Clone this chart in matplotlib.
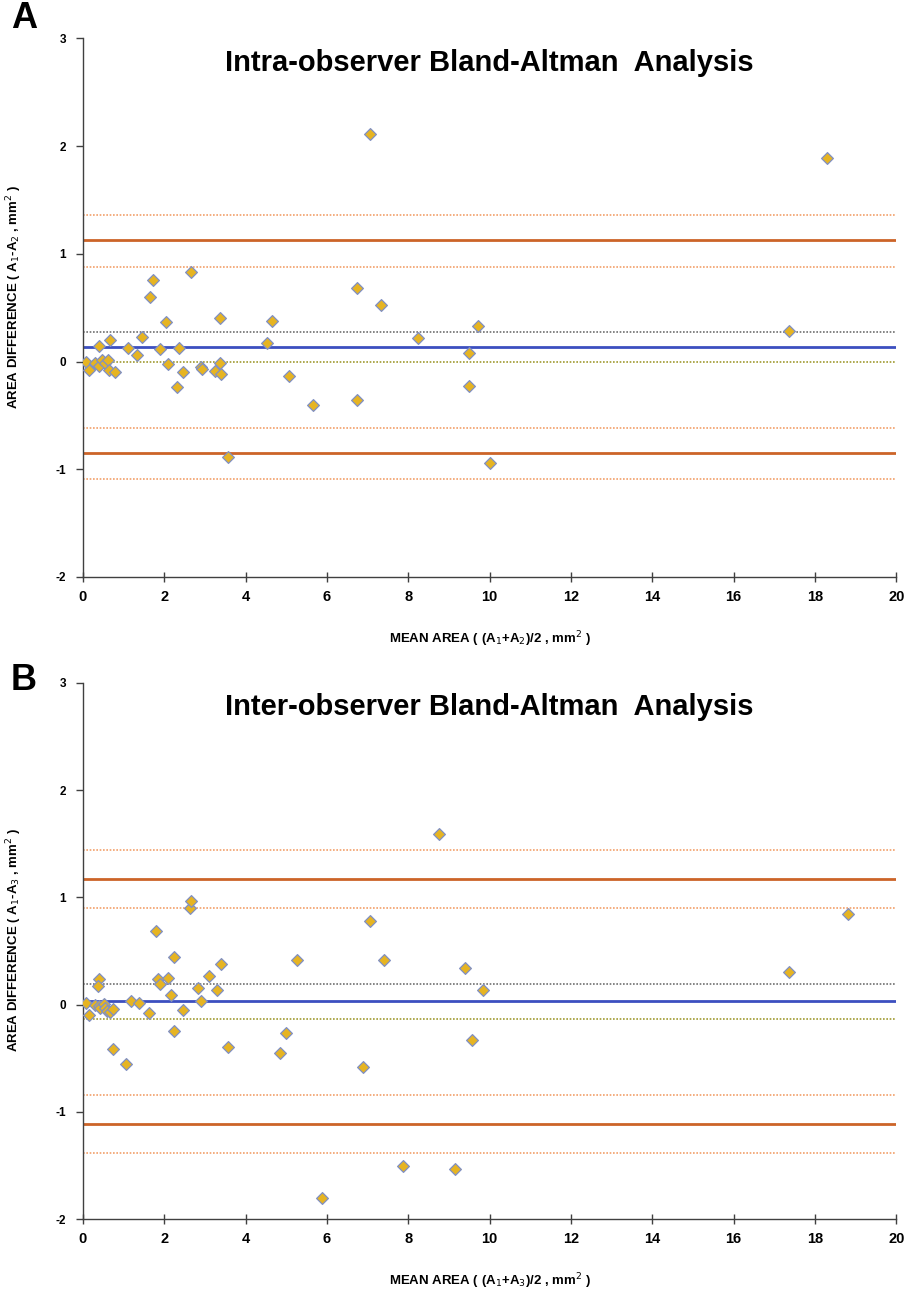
import matplotlib.pyplot as plt

# intra-observer: mean area vs area difference (A1 vs A2)
intra_mean = [0.07, 0.14, 0.29, 0.40, 0.40, 0.47, 0.54, 0.61, 0.63, 0.66,
              0.78, 1.10, 1.32, 1.44, 1.66, 1.71, 1.90, 2.03, 2.10, 2.30,
              2.35, 2.45, 2.65, 2.89, 2.93, 3.24, 3.36, 3.36, 3.39, 3.56,
              4.52, 4.66, 5.06, 5.65, 7.05, 6.73, 6.73, 7.32, 8.25, 9.50,
              9.50, 9.72, 10.01, 17.35, 18.29]
intra_diff = [0.00, -0.076, -0.01, 0.144, -0.04, 0.014, -0.017, 0.014, -0.076, 0.20,
              -0.097, 0.128, 0.06, 0.23, 0.60, 0.757, 0.113, 0.37, -0.02, -0.24,
              0.122, -0.097, 0.834, -0.054, -0.073, -0.085, 0.40, -0.011, -0.113, -0.884,
              0.175, 0.379, -0.132, -0.40, 2.11, 0.685, -0.355, 0.527, 0.221, 0.082,
              -0.225, 0.33, -0.94, 0.286, 1.89]
# bias, its CI, limits of agreement and their CIs
intra_bias = 0.135
intra_bias_ci = [0.0, 0.277]
intra_loa = [1.125, -0.85]
intra_loa_ci = [0.88, 1.36, -0.615, -1.088]

# inter-observer: A1 vs A3
inter_mean = [0.07, 0.16, 0.30, 0.39, 0.36, 0.40, 0.43, 0.51, 0.55, 0.60,
              0.66, 0.75, 0.73, 1.06, 1.17, 1.37, 1.62, 1.80, 1.85, 1.89,
              2.10, 2.16, 2.24, 2.23, 2.45, 2.62, 2.65, 2.82, 2.90, 3.10,
              3.30, 3.39, 3.57, 4.84, 5.00, 5.26, 5.88, 6.88, 7.06, 7.40,
              7.86, 8.76, 9.15, 9.40, 9.57, 9.84, 17.35, 18.80]
inter_diff = [0.02, -0.10, 0.0, 0.237, 0.177, -0.01, -0.03, 0.01, -0.03, -0.056,
              -0.065, -0.043, -0.41, -0.55, 0.03, 0.02, -0.074, 0.684, 0.236, 0.19,
              0.246, 0.087, 0.44, -0.25, -0.05, 0.904, 0.964, 0.16, 0.03, 0.27,
              0.134, 0.376, -0.39, -0.45, -0.267, 0.42, -1.80, -0.58, 0.777, 0.414,
              -1.50, 1.594, -1.534, 0.345, -0.326, 0.14, 0.308, 0.848]
inter_bias = 0.03
inter_bias_ci = [-0.13, 0.19]
inter_loa = [1.171, -1.109]
inter_loa_ci = [0.897, 1.445, -0.839, -1.385]

x_ticks = list(range(0, 21, 2))
y_ticks = [-2, -1, 0, 1, 2, 3]

font = ['Liberation Sans', 'DejaVu Sans']
plt.rcParams['font.family'] = font
plt.rcParams['axes.unicode_minus'] = False

fig = plt.figure(figsize=(9.06, 12.89), dpi=100)


def bland_altman(ax, xs, ys, bias, bias_ci, loa, loa_ci, title, xlabel, ylabel):
    dot = (0, (1, 1))
    for v in loa_ci:
        ax.axhline(v, color='#F2A06A', lw=1.2, ls=dot, zorder=1)
    for v in loa:
        ax.axhline(v, color='#CC6428', lw=2.0, zorder=1)
    ax.axhline(bias_ci[0], color='#A09A30', lw=1.2, ls=dot, zorder=1)
    ax.axhline(bias_ci[1], color='#707070', lw=1.2, ls=dot, zorder=1)
    ax.axhline(bias, color='#3C4FC0', lw=2.0, zorder=1)
    ax.scatter(xs, ys, marker='D', s=36, facecolor='#E6B422',
               edgecolor='#8090C4', linewidth=0.9, zorder=3)

    ax.set_xlim(0, 20)
    ax.set_ylim(-2, 3)
    ax.set_xticks(x_ticks)
    ax.set_yticks(y_ticks)
    for s in ['top', 'right']:
        ax.spines[s].set_visible(False)
    for s in ['left', 'bottom']:
        ax.spines[s].set_color('#404040')
        ax.spines[s].set_linewidth(1.0)
    ax.tick_params(axis='x', direction='inout', length=7, width=1,
                   color='#404040', pad=6)
    ax.tick_params(axis='y', direction='out', length=5, width=1,
                   color='#404040', pad=7)
    for lab in ax.get_xticklabels():
        lab.set_fontweight('bold')
        lab.set_fontsize(10.5)
    for lab in ax.get_yticklabels():
        lab.set_fontweight('bold')
        lab.set_fontsize(8.5)

    ax.text(0.5, 0.955, title, transform=ax.transAxes, ha='center', va='center',
            fontsize=21, fontweight='bold')
    ax.set_xlabel(xlabel, fontsize=9.5, fontweight='bold', labelpad=18)
    ax.set_ylabel(ylabel, fontsize=9.5, fontweight='bold')
    ax.yaxis.set_label_coords(-0.072, 0.52)


ax_a = fig.add_axes([0.0916, 0.5524, 0.8977, 0.4178])
bland_altman(ax_a, intra_mean, intra_diff, intra_bias, intra_bias_ci,
             intra_loa, intra_loa_ci,
             'Intra-observer Bland-Altman  Analysis',
             r'MEAN AREA ( (A$_1$+A$_2$)/2 , mm$^2$ )',
             r'AREA DIFFERENCE ( A$_1$-A$_2$ , mm$^2$ )')

ax_b = fig.add_axes([0.0916, 0.0541, 0.8977, 0.4162])
bland_altman(ax_b, inter_mean, inter_diff, inter_bias, inter_bias_ci,
             inter_loa, inter_loa_ci,
             'Inter-observer Bland-Altman  Analysis',
             r'MEAN AREA ( (A$_1$+A$_3$)/2 , mm$^2$ )',
             r'AREA DIFFERENCE ( A$_1$-A$_3$ , mm$^2$ )')

fig.text(0.012, 0.986, 'A', fontsize=26, fontweight='bold',
         ha='left', va='center')
fig.text(0.012, 0.472, 'B', fontsize=26, fontweight='bold',
         ha='left', va='center')

fig.savefig('out.png', dpi=100)
